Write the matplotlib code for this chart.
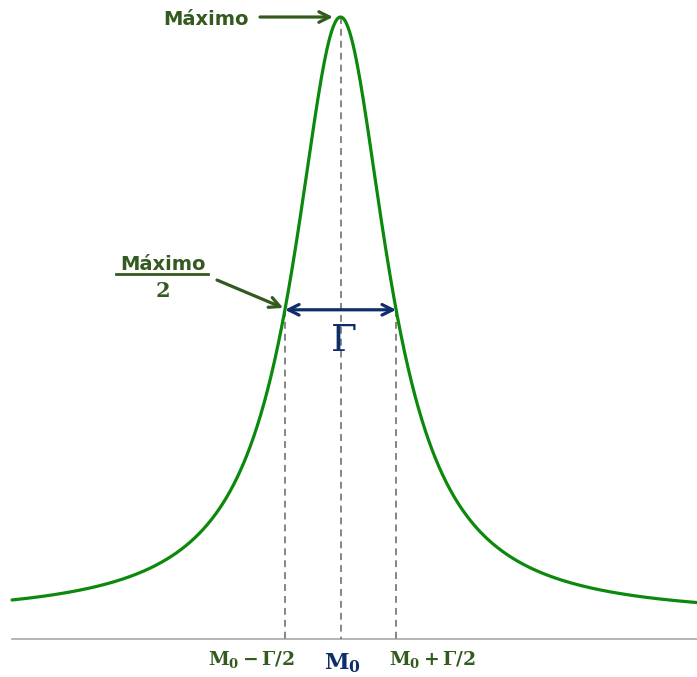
import numpy as np
import matplotlib
matplotlib.use("Agg")
import matplotlib.pyplot as plt

plt.rcParams["mathtext.fontset"] = "dejavuserif"

# Resonance curve parameters: width W, small background BG, peak PEAK
M0 = 0.0
W = 1.0
PEAK = 1.0
BG = 0.0338
M_RANGE = (-5.763, 6.254)

CURVE_COLOR = "#0c890c"
TEXT_GREEN = "#335a1f"
NAVY = "#102d6b"
GREY = "#7c7c7c"


def resonance(m):
    return BG + (PEAK - BG) / (1.0 + ((m - M0) / W) ** 2)


fig = plt.figure(figsize=(6.97, 6.77), dpi=100)
ax = fig.add_axes([0, 0, 1, 1])
ax.set_xlim(-5.974, 6.254)
ax.set_ylim(-0.0619, 1.0274)
ax.axis("off")

m = np.linspace(M_RANGE[0], M_RANGE[1], 800)
y = resonance(m)
ax.plot([M_RANGE[0], M_RANGE[1]], [0, 0], color="#a8a8a8", lw=1.2)
ax.plot(m, y, color=CURVE_COLOR, lw=2.3, solid_capstyle="round", zorder=3)

# half level between the curve's max and min, and where the curve crosses it
half = (y.max() + y.min()) / 2
u = np.sqrt((PEAK - BG) / (half - BG) - 1.0)
lo, hi = M0 - W * u, M0 + W * u

# guide lines down to the mass axis
dash = dict(color=GREY, lw=1.3, ls=(0, (3.8, 2.8)), zorder=2)
ax.plot([M0, M0], [PEAK, 0], **dash)
ax.plot([lo, lo], [half, 0], **dash)
ax.plot([hi, hi], [half, 0], **dash)

# width arrow
ax.annotate("", xy=(hi, half), xytext=(lo, half),
            arrowprops=dict(arrowstyle="<->", color=NAVY, lw=2.3,
                            mutation_scale=19, shrinkA=0, shrinkB=0), zorder=4)
ax.text(M0 + 0.044, 0.4634, r"$\Gamma$", color=NAVY, fontsize=27,
        ha="center", va="baseline")

# maximum label
ax.text(-3.114, 0.9873, "Máximo", color=TEXT_GREEN, fontsize=14,
        fontweight="bold", ha="left", va="baseline")
ax.annotate("", xy=(-0.132, PEAK), xytext=(-1.412, PEAK),
            arrowprops=dict(arrowstyle="->", color=TEXT_GREEN, lw=2.3,
                            mutation_scale=19, shrinkA=0, shrinkB=0))

# half-maximum label as a fraction
ax.text(-3.123, 0.5929, "Máximo", color=TEXT_GREEN, fontsize=14,
        fontweight="bold", ha="center", va="baseline")
ax.plot([-3.939, -2.325], [0.5865, 0.5865], color=TEXT_GREEN, lw=2.0)
ax.text(-3.123, 0.5495, r"$\mathbf{2}$", color=TEXT_GREEN, fontsize=15,
        ha="center", va="baseline")
ax.annotate("", xy=(lo - 0.03, half + 0.003), xytext=(-2.167, 0.5768),
            arrowprops=dict(arrowstyle="->", color=TEXT_GREEN, lw=2.3,
                            mutation_scale=19, shrinkA=0, shrinkB=0))

# mass axis labels
ax.text(-1.570, -0.0426, r"$\mathbf{M_0 - \Gamma/2}$", color=TEXT_GREEN,
        fontsize=13.5, ha="center", va="baseline")
ax.text(M0 + 0.026, -0.0491, r"$\mathbf{M_0}$", color=NAVY,
        fontsize=16, ha="center", va="baseline")
ax.text(1.605, -0.0426, r"$\mathbf{M_0 + \Gamma/2}$", color=TEXT_GREEN,
        fontsize=13.5, ha="center", va="baseline")

fig.savefig("out.png", dpi=100)
